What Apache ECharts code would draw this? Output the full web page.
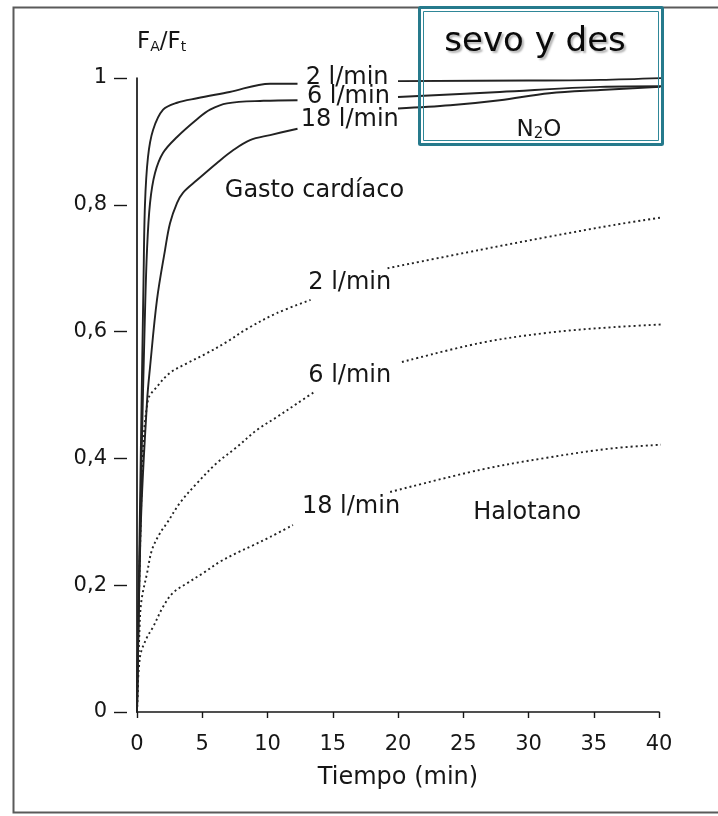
<!DOCTYPE html>
<html><head><meta charset="utf-8">
<script src="https://cdn.jsdelivr.net/npm/echarts@6/dist/echarts.min.js"></script>
<style>html,body{margin:0;padding:0;background:#fff}#c{width:718px;height:816px}</style>
</head><body><div id="c"></div>
<script>
// ---- data (time in min, FA/Fi) ----
const xTicks = [0, 5, 10, 15, 20, 25, 30, 35, 40];
const yTickLabels = ['0', '0,2', '0,4', '0,6', '0,8', '1'];

// Sevoflurano / desflurano / N2O — gasto cardíaco 2, 6, 18 l/min (segment before and after label)
const sevo2a = [[0,0],[0.3,0.42],[0.5,0.68],[0.61,0.80],[0.84,0.875],[1.23,0.918],[2.0,0.95],[3.07,0.961],[4.6,0.968],[7.1,0.978],[10.2,0.991],[12.3,0.991]];
const sevo2b = [[20.0,0.995],[30.0,0.996],[35.5,0.997],[40.5,1.0]];
const sevo6a = [[0,0],[0.35,0.4],[0.6,0.62],[0.77,0.73],[1.0,0.803],[1.38,0.85],[2.0,0.882],[3.07,0.907],[4.6,0.935],[5.6,0.95],[6.9,0.96],[9.7,0.964],[12.3,0.965]];
const sevo6b = [[20.0,0.970],[27.8,0.978],[35.5,0.986],[40.8,0.987]];
const sevo18a = [[0,0],[0.3,0.3],[0.77,0.49],[1.0,0.544],[1.53,0.65],[2.15,0.729],[2.53,0.771],[3.07,0.803],[3.52,0.819],[4.6,0.839],[6.13,0.866],[7.36,0.886],[8.66,0.902],[10.2,0.91],[12.3,0.92]];
const sevo18b = [[20.0,0.952],[24.0,0.957],[27.8,0.965],[31.6,0.976],[35.5,0.981],[40.1,0.986]];

// Halotano — gasto cardíaco 2, 6, 18 l/min
const halo2a = [[0,0],[0.4,0.38],[0.84,0.492],[1.53,0.513],[2.53,0.535],[3.83,0.55],[5.36,0.566],[6.9,0.584],[8.4,0.604],[10.7,0.629],[13.3,0.65]];
const halo2b = [[19.2,0.70],[26.3,0.729],[31.4,0.749],[36.5,0.768],[40.5,0.781]];
const halo6a = [[0,0],[0.23,0.15],[0.38,0.181],[0.77,0.219],[1.15,0.256],[1.76,0.282],[2.3,0.298],[3.3,0.33],[4.6,0.361],[6.13,0.393],[7.66,0.418],[9.2,0.445],[10.7,0.465],[12.3,0.487],[13.6,0.505]];
const halo6b = [[20.3,0.552],[26.3,0.582],[31.4,0.598],[36.5,0.607],[41.1,0.612]];
const halo18a = [[0,0],[0.23,0.087],[0.77,0.118],[1.23,0.134],[2.0,0.166],[2.76,0.188],[3.83,0.203],[5.06,0.219],[6.36,0.237],[7.66,0.251],[8.9,0.263],[10.2,0.276],[11.95,0.295]];
const halo18b = [[19.4,0.347],[26.3,0.382],[31.4,0.401],[36.5,0.416],[41.4,0.423]];

// ---- styling / annotations ----
const FONT = 'DejaVu Sans';
const INK = '#161616';
const annotations = [
  { at: [16.1, 1.000], text: '2 l/min' },
  { at: [16.2, 0.970], text: '6 l/min' },
  { at: [16.3, 0.934], text: '18 l/min' },
  { at: [13.6, 0.822], text: 'Gasto cardíaco' },
  { at: [16.3, 0.677], text: '2 l/min' },
  { at: [16.3, 0.530], text: '6 l/min' },
  { at: [16.4, 0.323], text: '18 l/min' },
  { at: [29.9, 0.315], text: 'Halotano' },
  { at: [30.8, 0.921], text: '{n|N}{s|2}{n|O}' },
  { at: [30.5, 1.057], text: '{big|sevo y des}' }
];

function seg(a, b) { return a.concat([[ (a[a.length-1][0] + b[0][0]) / 2, '-' ]], b); }

const solid = { color: '#222', width: 1.9, type: 'solid' };
const dotted = { color: '#222', width: 1.9, type: [2, 3] };

function line(name, data, style) {
  return {
    name, type: 'line', data, showSymbol: false, symbol: 'none',
    smooth: 0.35, connectNulls: false, clip: false,
    lineStyle: style, silent: true, z: 3
  };
}

const chart = echarts.init(document.getElementById('c'), null, { renderer: 'canvas' });

chart.setOption({
  animation: false,
  backgroundColor: '#fff',
  grid: { left: 137, right: 59, top: 78, bottom: 104, outerBoundsMode: 'none', containLabel: false },
  xAxis: {
    type: 'value', min: 0, max: 40, interval: 5,
    axisLine: { show: true, lineStyle: { color: INK, width: 1.7 } },
    axisTick: { show: true, inside: false, length: 6, lineStyle: { color: INK, width: 1.4 } },
    axisLabel: { margin: 22, fontFamily: FONT, fontSize: 21, color: INK,
      formatter: v => (xTicks.indexOf(v) >= 0 ? String(v) : '') },
    splitLine: { show: false },
    name: 'Tiempo (min)', nameLocation: 'middle', nameGap: 54,
    nameTextStyle: { fontFamily: FONT, fontSize: 24, color: INK }
  },
  yAxis: [
    {
      type: 'value', min: 0, max: 1, interval: 0.2,
      axisLine: { show: true, lineStyle: { color: INK, width: 1.7 } },
      axisTick: { show: false }, axisLabel: { show: false }, splitLine: { show: false },
      name: '{n|F}{s|A}{n|/F}{s|t}', nameLocation: 'end', nameGap: 24,
      nameTextStyle: { align: 'left', fontFamily: FONT, fontSize: 23, color: INK,
        rich: { n: { fontFamily: FONT, fontSize: 23, color: INK, verticalAlign: 'bottom', lineHeight: 28 },
                s: { fontFamily: FONT, fontSize: 14, color: INK, verticalAlign: 'bottom', lineHeight: 18 } } }
    },
    {
      type: 'value', min: 0, max: 1, interval: 0.2, position: 'left', offset: 10,
      axisLine: { show: false },
      axisTick: { show: true, length: 13, lineStyle: { color: INK, width: 1.4 } },
      axisLabel: { margin: 20, fontFamily: FONT, fontSize: 21, color: INK,
        formatter: v => yTickLabels[Math.round(v / 0.2)] || '' },
      splitLine: { show: false }
    }
  ],
  series: [
    line('sevo 2', seg(sevo2a, sevo2b), solid),
    line('sevo 6', seg(sevo6a, sevo6b), solid),
    line('sevo 18', seg(sevo18a, sevo18b), solid),
    line('halo 2', seg(halo2a, halo2b), dotted),
    line('halo 6', seg(halo6a, halo6b), dotted),
    line('halo 18', seg(halo18a, halo18b), dotted)
  ],
  graphic: [
    // scanned page frame
    { type: 'polyline', silent: true, z: 1,
      shape: { points: [[718, 7.5], [13.5, 7.5], [13.5, 812.5], [718, 812.5]] },
      style: { fill: null, stroke: '#5a5a5a', lineWidth: 2 } },
    // teal highlight box
    { type: 'rect', silent: true, z: 10,
      shape: { x: 419.5, y: 7.5, width: 243, height: 137, r: 1 },
      style: { fill: null, stroke: '#267a8c', lineWidth: 3 } },
    { type: 'rect', silent: true, z: 10,
      shape: { x: 423.5, y: 11.5, width: 235, height: 129 },
      style: { fill: null, stroke: '#2f8798', lineWidth: 1 } }
  ]
});

// text annotations anchored in data coordinates
const rich = {
  n: { fontFamily: FONT, fontSize: 23, fill: INK, verticalAlign: 'bottom', lineHeight: 27 },
  s: { fontFamily: FONT, fontSize: 15, fill: INK, verticalAlign: 'bottom', lineHeight: 18 },
  big: { fontFamily: FONT, fontSize: 34, fill: '#0a0a0a', textShadowColor: 'rgba(0,0,0,0.3)',
         textShadowBlur: 2, textShadowOffsetX: 2, textShadowOffsetY: 2 }
};
const texts = annotations.map(a => {
  const p = chart.convertToPixel({ gridIndex: 0 }, a.at);
  return { type: 'text', silent: true, z: 20, x: p[0], y: p[1],
    style: { text: a.text, fontFamily: FONT, fontSize: 24, fill: INK,
      align: 'center', verticalAlign: 'middle', rich } };
});
chart.setOption({ graphic: texts.map((t, i) => Object.assign({ id: 'ann' + i }, t)) });
</script>
</body></html>
